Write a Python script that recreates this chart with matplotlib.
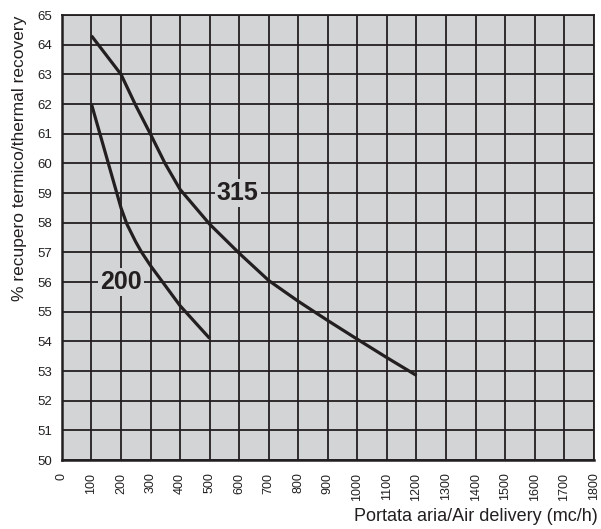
import matplotlib.pyplot as plt
import numpy as np

# dati
x_315 = [100, 200, 250, 300, 350, 400, 500, 600, 700, 800, 900, 1000, 1100, 1200]
y_315 = [64.3, 63.0, 61.95, 60.98, 59.98, 59.12, 57.95, 56.97, 56.05, 55.35, 54.7, 54.07, 53.45, 52.85]

x_200 = [100, 200, 220, 250, 270, 300, 400, 500]
y_200 = [62.0, 58.5, 57.95, 57.35, 57.0, 56.55, 55.2, 54.1]

x_ticks = list(range(0, 1900, 100))
y_ticks = list(range(50, 66))

ink = '#231f20'
bg = '#d3d4d6'

fig = plt.figure(figsize=(6.01, 5.29), dpi=100)
ax = fig.add_axes([0.103, 0.1304, 0.885, 0.8412])
ax.set_facecolor(bg)

ax.plot(x_315, y_315, color=ink, lw=2.3, solid_capstyle='butt', solid_joinstyle='round', zorder=3)
ax.plot(x_200, y_200, color=ink, lw=2.3, solid_capstyle='butt', solid_joinstyle='round', zorder=3)

# etichette delle curve
lab_font = ['Liberation Sans Narrow', 'Liberation Sans', 'DejaVu Sans']
ax.text(595, 59, '315', fontsize=18, fontweight='bold', family=lab_font,
        ha='center', va='center', color=ink, zorder=4,
        bbox=dict(facecolor=bg, edgecolor='none', pad=1.5))
ax.text(200, 56, '200', fontsize=18, fontweight='bold', family=lab_font,
        ha='center', va='center', color=ink, zorder=4,
        bbox=dict(facecolor=bg, edgecolor='none', pad=1.5))

ax.set_xlim(0, 1800)
ax.set_ylim(50, 65)
ax.set_xticks(x_ticks)
ax.set_yticks(y_ticks)
ax.set_xticklabels([str(v) for v in x_ticks], rotation=90, family='Liberation Sans', fontsize=9, color=ink)
ax.set_yticklabels([str(v) for v in y_ticks], family='Liberation Sans', fontsize=9.5, color=ink)
ax.tick_params(length=0, pad=9)
ax.tick_params(axis='y', pad=7)

ax.grid(True, color=ink, lw=1.3, zorder=1)
ax.set_axisbelow(True)
for side in ['top', 'right']:
    ax.spines[side].set_linewidth(1.3)
    ax.spines[side].set_color(ink)
for side in ['bottom', 'left']:
    ax.spines[side].set_linewidth(1.8)
    ax.spines[side].set_color(ink)

fig.text(0.995, 0.015, 'Portata aria/Air delivery (mc/h)', ha='right', va='baseline',
         fontsize=13, family=['Liberation Sans Narrow', 'Liberation Sans'], color=ink)
fig.text(0.032, 0.70, '% recupero termico/thermal recovery', ha='center', va='center',
         rotation=90, fontsize=12.5, family=['Liberation Sans Narrow', 'Liberation Sans'], color=ink)

plt.savefig('out.png', dpi=100)
